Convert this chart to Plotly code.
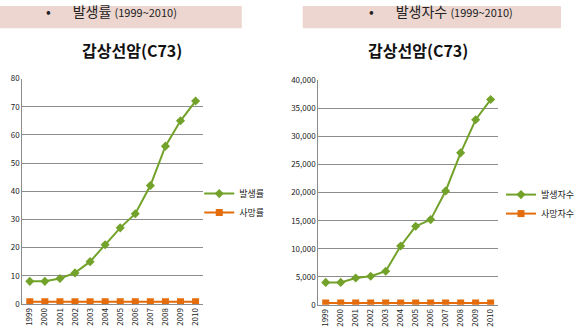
import plotly.graph_objects as go

years = [str(y) for y in range(1999, 2011)]
rate_incidence = [8, 8, 9, 11, 15, 21, 27, 32, 42, 56, 65, 72]
rate_death = [0.8] * 12
count_incidence = [4000, 4000, 4800, 5100, 6000, 10500, 14000, 15200, 20300, 27100, 33000, 36600]
count_death = [350] * 12

W, H = 580, 335
def px(x): return x / W
def py(y): return (H - y) / H

GREEN = "#72A22A"
ORANGE = "#E46C0A"
GRID = "#8C8C8C"
FONT = "Noto Sans CJK KR"

fig = go.Figure()
fig.add_trace(go.Scatter(x=years, y=rate_incidence, name="발생률", mode="lines+markers",
                         line=dict(color=GREEN, width=2), marker=dict(symbol="diamond", size=7, color=GREEN),
                         xaxis="x", yaxis="y", legend="legend"))
fig.add_trace(go.Scatter(x=years, y=rate_death, name="사망률", mode="lines+markers",
                         line=dict(color=ORANGE, width=2), marker=dict(symbol="square", size=7, color=ORANGE),
                         xaxis="x", yaxis="y", legend="legend"))
fig.add_trace(go.Scatter(x=years, y=count_incidence, name="발생자수", mode="lines+markers",
                         line=dict(color=GREEN, width=2), marker=dict(symbol="diamond", size=7, color=GREEN),
                         xaxis="x2", yaxis="y2", legend="legend2"))
fig.add_trace(go.Scatter(x=years, y=count_death, name="사망자수", mode="lines+markers",
                         line=dict(color=ORANGE, width=2), marker=dict(symbol="square", size=7, color=ORANGE),
                         xaxis="x2", yaxis="y2", legend="legend2"))

xcommon = dict(type="category", range=[-0.5, 11.5], tickangle=-90, showgrid=False,
               showline=True, linecolor=GRID, linewidth=1, ticks="", tickfont=dict(size=8, color="#222", family=FONT),
               fixedrange=True)
ycommon = dict(showgrid=True, gridcolor=GRID, gridwidth=1, showline=True, linecolor=GRID, linewidth=1,
               ticks="", zeroline=False, tickfont=dict(size=8, color="#222", family=FONT), tickformat=",")

fig.update_layout(
    width=W, height=H, margin=dict(l=0, r=0, t=0, b=0),
    paper_bgcolor="white", plot_bgcolor="white",
    font=dict(family=FONT, color="#222"),
    xaxis=dict(domain=[px(23), px(210)], anchor="y", **xcommon),
    yaxis=dict(domain=[py(308), py(75)], anchor="x", range=[0, 80], dtick=10, **ycommon),
    xaxis2=dict(domain=[px(329), px(515)], anchor="y2", **xcommon),
    yaxis2=dict(domain=[py(309), py(77)], anchor="x2", range=[0, 40000], dtick=5000, **ycommon),
    legend=dict(x=px(206), y=py(179), xanchor="left", yanchor="top", bgcolor="rgba(0,0,0,0)",
                font=dict(size=9, family=FONT), tracegroupgap=0, itemwidth=30),
    legend2=dict(x=px(518), y=py(180), xanchor="left", yanchor="top", bgcolor="rgba(0,0,0,0)",
                 font=dict(size=9, family=FONT), tracegroupgap=0, itemwidth=30),
    showlegend=True,
)

# header boxes
fig.add_shape(type="rect", xref="paper", yref="paper", x0=0, x1=px(250), y0=py(23), y1=1,
              fillcolor="#EDD6D0", line=dict(width=0), layer="below")
fig.add_shape(type="rect", xref="paper", yref="paper", x0=px(313), x1=1, y0=py(23), y1=1,
              fillcolor="#EDD6D0", line=dict(width=0), layer="below")

fig.add_annotation(xref="paper", yref="paper", x=px(46), y=py(6), xanchor="left", yanchor="middle",
                   yshift=1,
                   text="•       발생률 <span style='font-size:11px'>(1999~2010)</span>", showarrow=False,
                   font=dict(size=14, family=FONT, color="#222"))
fig.add_annotation(xref="paper", yref="paper", x=px(379), y=py(6), xanchor="left", yanchor="middle",
                   yshift=1,
                   text="•       발생자수 <span style='font-size:11px'>(1999~2010)</span>", showarrow=False,
                   font=dict(size=14, family=FONT, color="#222"))

fig.add_annotation(xref="paper", yref="paper", x=px(136), y=py(50), xanchor="center", yanchor="middle",
                   yshift=4,
                   text="<b>갑상선암(C73)</b>", showarrow=False, font=dict(size=16, family=FONT, color="#111"))
fig.add_annotation(xref="paper", yref="paper", x=px(432), y=py(50), xanchor="center", yanchor="middle",
                   yshift=4,
                   text="<b>갑상선암(C73)</b>", showarrow=False, font=dict(size=16, family=FONT, color="#111"))

fig.write_html("out.html")
